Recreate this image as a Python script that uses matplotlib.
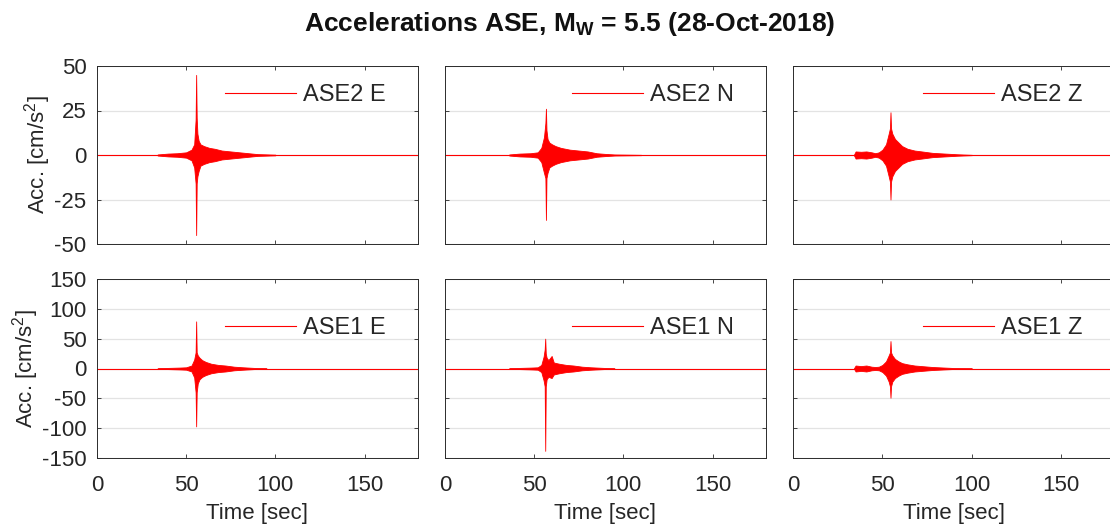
import matplotlib
matplotlib.use("Agg")
import matplotlib.pyplot as plt

plt.rcParams['font.family'] = ['Liberation Sans', 'DejaVu Sans']
plt.rcParams['mathtext.fontset'] = 'custom'
plt.rcParams['mathtext.rm'] = 'Liberation Sans'
plt.rcParams['mathtext.bf'] = 'Liberation Sans:bold'
plt.rcParams['mathtext.it'] = 'Liberation Sans:italic'
plt.rcParams['axes.unicode_minus'] = False

# ---- data (envelopes) ----
labels = [["ASE2 E", "ASE2 N", "ASE2 Z"], ["ASE1 E", "ASE1 N", "ASE1 Z"]]
time_range = [0, 180]

ase2_e_t = [34, 40, 45, 50, 53, 54.5, 55.3, 55.6, 55.9, 56.3, 57, 58, 60, 63, 66, 70, 75, 80, 85, 90, 100]
ase2_e_up = [0.3, 0.8, 1.0, 1.5, 3, 6, 20, 45, 21, 12, 8, 6, 5, 4, 3.5, 2.5, 2, 1.5, 1, 0.5, 0.2]
ase2_e_lo = [-0.3, -0.8, -1.0, -1.5, -3, -7, -16, -45, -16, -12, -9, -6, -5, -4, -3.5, -2.5, -2, -1.5, -1, -0.5, -0.2]

ase2_n_t = [36, 42, 48, 52, 54, 55.5, 56.3, 56.6, 56.9, 57.5, 58.5, 60, 62, 65, 70, 75, 80, 85, 90, 95, 110]
ase2_n_up = [0.3, 0.8, 1, 1.5, 4, 10, 18, 26, 14, 9, 7, 6, 5, 4, 3, 2.5, 2, 1, 0.6, 0.3, 0.1]
ase2_n_lo = [-0.3, -0.8, -1, -1.5, -4, -10, -13, -36.5, -13, -10, -7, -6, -5, -4, -3, -2.5, -2, -1, -0.6, -0.3, -0.1]

ase2_z_t = [34, 35, 38, 41, 44, 46, 48, 50, 52, 53.5, 54.2, 54.5, 54.8, 55.5, 57, 59, 61, 64, 68, 72, 78, 85, 92, 100]
ase2_z_up = [0, 2, 1.8, 2, 1.5, 1, 1.5, 3, 6, 12, 15, 24, 15, 12, 9, 7, 5, 3.5, 2.5, 2, 1.2, 0.8, 0.4, 0.1]
ase2_z_lo = [0, -2, -1.8, -2, -1.5, -1, -1.5, -3, -6, -12, -15, -25, -15, -12, -9, -7, -5, -3.5, -2.5, -2, -1.2, -0.8, -0.4, -0.1]

ase1_e_t = [34, 40, 46, 50, 53, 54.5, 55.3, 55.6, 55.9, 56.5, 57.5, 59, 61, 64, 68, 72, 77, 82, 88, 95]
ase1_e_up = [0.5, 1, 1.5, 2, 5, 15, 27, 79, 27, 22, 18, 14, 11, 8, 6, 5, 3, 2, 1, 0.3]
ase1_e_lo = [-0.5, -1, -1.5, -2, -5, -15, -40, -97, -40, -25, -18, -14, -11, -8, -6, -5, -3, -2, -1, -0.3]

ase1_n_t = [36, 42, 48, 52, 54, 55.3, 55.9, 56.2, 56.5, 57, 58, 59.8, 61, 64, 68, 72, 77, 82, 89, 95]
ase1_n_up = [0.5, 1, 1.5, 2, 6, 20, 32, 50, 25, 18, 14, 21, 10, 8, 6, 5, 3, 2, 1, 0.3]
ase1_n_lo = [-0.5, -1, -1.5, -2, -6, -20, -30, -138, -30, -18, -14, -16, -10, -8, -6, -5, -3, -2, -1, -0.3]

ase1_z_t = [34, 35, 38, 41, 44, 46, 48, 50, 52, 53.5, 54.2, 54.5, 54.8, 55.5, 57, 59, 61, 64, 68, 72, 78, 85, 90, 100]
ase1_z_up = [0, 5, 4, 5, 3, 2.5, 3, 6, 12, 22, 27, 46, 27, 22, 16, 12, 9, 7, 5, 4, 2.5, 1.5, 0.8, 0.2]
ase1_z_lo = [0, -5, -4, -5, -3, -2.5, -3, -6, -12, -22, -30, -49, -30, -22, -16, -12, -9, -7, -5, -4, -2.5, -1.5, -0.8, -0.2]

traces = [[(ase2_e_t, ase2_e_up, ase2_e_lo), (ase2_n_t, ase2_n_up, ase2_n_lo), (ase2_z_t, ase2_z_up, ase2_z_lo)],
          [(ase1_e_t, ase1_e_up, ase1_e_lo), (ase1_n_t, ase1_n_up, ase1_n_lo), (ase1_z_t, ase1_z_up, ase1_z_lo)]]

row_yticks = [[-50, -25, 0, 25, 50], [-150, -100, -50, 0, 50, 100, 150]]
row_ylim = [(-50, 50), (-150, 150)]
xticks = [0, 50, 100, 150]

# ---- layout ----
W, H = 1110, 528
fig = plt.figure(figsize=(W / 100, H / 100), dpi=100)
col_lr = [(97, 418), (445, 766), (793, 1115)]
row_tb = [(66, 244), (279, 458)]
legend_y = [0.837, 0.726]

RED = '#FF0000'
DARK = '#262626'
FS = 16
LFS = 17

for r in range(2):
    for c in range(3):
        l, rr = col_lr[c]
        t, b = row_tb[r]
        ax = fig.add_axes([l / W, 1 - b / H, (rr - l) / W, (b - t) / H])
        tt, up, lo = traces[r][c]
        ax.plot(time_range, [0, 0], color=RED, lw=0.8, label=labels[r][c])
        ax.fill_between(tt, lo, up, color=RED, lw=0.6, edgecolor=RED)
        ax.set_xlim(0, 180)
        ax.set_ylim(*row_ylim[r])
        ax.set_yticks(row_yticks[r])
        ax.set_xticks(xticks)
        ax.yaxis.grid(True, color='#e3e3e3', lw=0.9)
        ax.set_axisbelow(True)
        ax.tick_params(direction='in', top=True, right=True, length=3, width=0.6,
                       colors=DARK, labelsize=FS)
        ax.tick_params(axis='x', pad=12)
        ax.tick_params(axis='y', pad=7.5)
        for s in ax.spines.values():
            s.set_color('#2b2b2b')
            s.set_linewidth(0.7)
        if r == 0:
            ax.tick_params(labelbottom=False)
        else:
            ax.set_xlabel('Time [sec]', fontsize=FS, color=DARK, labelpad=5)
        if c != 0:
            ax.tick_params(labelleft=False)
        else:
            ax.set_ylabel(r'Acc. [cm/s$^2$]', fontsize=FS, color=DARK, labelpad=1)
        ax.legend(loc='center right', bbox_to_anchor=(0.90, legend_y[r]), frameon=False,
                  fontsize=LFS, handlelength=3.0, handletextpad=0.3, borderpad=0,
                  borderaxespad=0, labelcolor=DARK)

fig.text(0.5135, 1 - 31 / H, r'Accelerations ASE, M$_\mathbf{W}$ = 5.5 (28-Oct-2018)',
         ha='center', va='baseline', fontsize=19, fontweight='bold', color='#111111')

fig.savefig('out.png', dpi=100)
